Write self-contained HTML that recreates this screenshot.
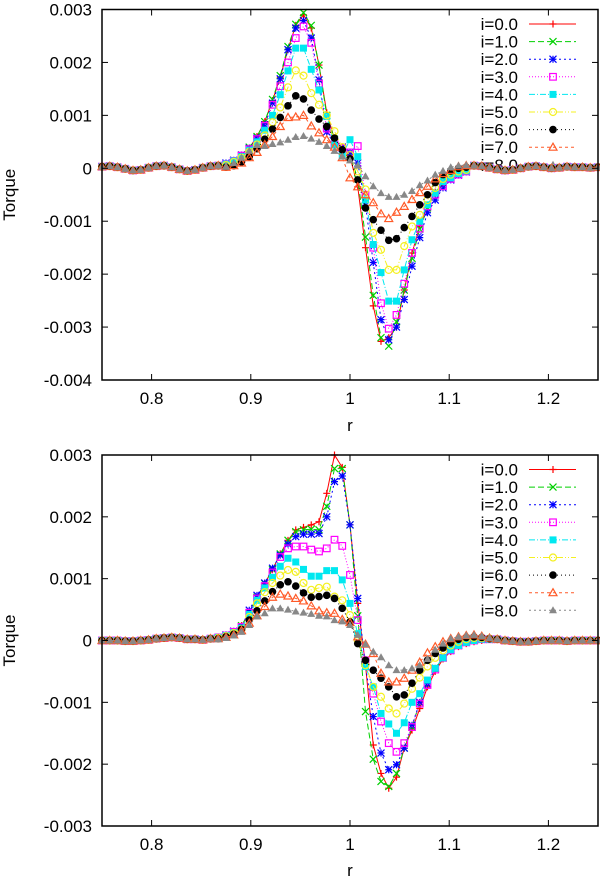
<!DOCTYPE html>
<html><head><meta charset="utf-8"><style>
html,body{margin:0;padding:0;background:#fff;}
svg{display:block;font-family:"Liberation Sans",sans-serif;}
</style></head><body>
<svg id="chart" width="600" height="878" viewBox="0 0 600 878" xmlns="http://www.w3.org/2000/svg"></svg>
<script>
// ---- data (torque values in units of 1e-3) ----
const seriesLabels = ["i=0.0","i=1.0","i=2.0","i=3.0","i=4.0","i=5.0","i=6.0","i=7.0","i=8.0"];
const xTickValues = [0.8, 0.9, 1.0, 1.1, 1.2];
const xTickLabels = ["0.8", "0.9", "1", "1.1", "1.2"];
const topYTickValues = [3, 2, 1, 0, -1, -2, -3, -4];
const topYTickLabels = ["0.003","0.002","0.001","0","-0.001","-0.002","-0.003","-0.004"];
const botYTickValues = [3, 2, 1, 0, -1, -2, -3];
const botYTickLabels = ["0.003","0.002","0.001","0","-0.001","-0.002","-0.003"];
const rStart = 0.75;
const rStep = 1/128;

// top panel
const topTailL = [0.03,0.04,0.02,-0.01,-0.04,-0.03,0.01,0.04,0.05,0.02,-0.02,-0.05,-0.03,0.01,0.04,0.05];
const topTailR = [0.05,0.04,0.01,-0.02,-0.04,-0.03,0.00,0.03,0.04,0.02,0.00,0.01,0.03,0.02,0.02,0.01,0.02];
const topI0 = [...topTailL, 0.08,0.15,0.25,0.38,0.60,0.88,1.28,1.72,2.25,2.70,2.90,2.65,1.95,1.05,0.55,0.40,0.22,-0.35,-1.50,-2.60,-3.27,-3.20,-3.00,-2.30,-1.60,-1.10,-0.70,-0.45,-0.30,-0.18,-0.10,-0.05, ...topTailR];
const topI1 = [...topTailL, 0.08,0.15,0.25,0.40,0.60,0.88,1.30,1.75,2.30,2.72,2.94,2.70,1.95,1.00,0.55,0.40,0.25,-0.20,-1.30,-2.40,-3.20,-3.36,-2.90,-2.30,-1.70,-1.15,-0.75,-0.45,-0.28,-0.15,-0.08,-0.04, ...topTailR];
const topI2 = [...topTailL, 0.10,0.15,0.25,0.38,0.57,0.82,1.23,1.69,2.24,2.65,2.79,2.46,1.67,0.69,0.45,0.40,0.30,0.10,-0.70,-1.78,-2.86,-3.24,-3.00,-2.48,-1.85,-1.31,-0.84,-0.60,-0.37,-0.22,-0.13,-0.07, ...topTailR];
const topI3 = [...topTailL, 0.08,0.14,0.24,0.36,0.55,0.80,1.20,1.55,2.00,2.46,2.68,2.37,1.60,0.75,0.45,0.38,0.30,0.42,-0.50,-1.50,-2.55,-3.03,-2.77,-2.18,-1.60,-1.14,-0.72,-0.50,-0.34,-0.20,-0.12,-0.06, ...topTailR];
const topI4 = [...topTailL, 0.08,0.14,0.22,0.34,0.50,0.72,1.00,1.39,1.84,2.27,2.27,1.87,1.48,0.98,0.44,0.25,0.54,0.22,-0.60,-1.44,-1.97,-2.51,-2.51,-1.92,-1.35,-1.00,-0.69,-0.47,-0.25,-0.18,-0.10,-0.05, ...topTailR];
const topI5 = [...topTailL, 0.06,0.12,0.20,0.31,0.45,0.62,0.87,1.15,1.53,1.85,1.75,1.42,1.20,1.00,0.70,0.40,0.25,-0.06,-0.40,-1.22,-1.54,-1.92,-1.92,-1.47,-1.10,-0.88,-0.60,-0.37,-0.20,-0.12,-0.06,-0.03, ...topTailR];
const topI6 = [...topTailL, 0.02,0.05,0.12,0.22,0.37,0.55,0.74,0.96,1.18,1.37,1.31,1.10,0.93,0.79,0.57,0.35,0.18,-0.22,-0.75,-0.97,-1.17,-1.36,-1.33,-1.12,-0.91,-0.69,-0.50,-0.27,-0.12,-0.05,0.00,0.02, ...topTailR];
const topI7 = [...topTailL, 0.02,0.05,0.10,0.20,0.30,0.45,0.60,0.79,0.96,0.97,1.00,0.80,0.67,0.54,0.40,0.20,-0.18,-0.35,-0.50,-0.65,-0.86,-0.95,-0.83,-0.72,-0.59,-0.46,-0.34,-0.20,-0.10,-0.04,0.03,0.05, ...topTailR];
const topI8 = [...topTailL, 0.03,0.10,0.20,0.33,0.44,0.42,0.46,0.49,0.54,0.59,0.61,0.56,0.50,0.42,0.33,0.22,0.15,0.05,-0.15,-0.34,-0.47,-0.54,-0.54,-0.50,-0.43,-0.32,-0.23,-0.12,-0.05,0.02,0.05,0.06, ...topTailR];

// bottom panel
const botTailL = [0.0,0.0,0.0,-0.01,-0.01,0.0,0.01,0.03,0.04,0.05,0.04,0.02,0.02,0.01,0.03];
const botTailR = [0.02,0.0,-0.01,-0.02,-0.02,-0.01,0.0,0.0,0.0,-0.01,0.0,0.0,0.0,0.0];
const botI0 = [...botTailL, 0.05,0.08,0.14,0.24,0.45,0.70,0.92,1.15,1.40,1.62,1.79,1.83,1.87,1.92,2.38,3.00,2.80,1.87,0.60,-0.40,-1.69,-2.15,-2.39,-2.21,-1.74,-1.45,-1.10,-0.75,-0.50,-0.30,-0.18,-0.10,-0.05,-0.02,0.00,0.02, ...botTailR];
const botI1 = [...botTailL, 0.05,0.08,0.14,0.24,0.45,0.70,0.92,1.15,1.40,1.62,1.76,1.79,1.80,1.79,2.17,2.78,2.78,1.87,0.40,-1.15,-1.92,-2.28,-2.36,-2.15,-1.74,-1.40,-1.00,-0.70,-0.45,-0.28,-0.16,-0.08,-0.03,0.00,0.02,0.02, ...botTailR];
const botI2 = [...botTailL, 0.05,0.09,0.15,0.22,0.49,0.73,0.93,1.17,1.38,1.56,1.68,1.72,1.72,1.73,2.00,2.57,2.66,1.87,0.68,-0.42,-1.23,-1.82,-2.09,-2.01,-1.74,-1.37,-1.00,-0.70,-0.45,-0.28,-0.16,-0.08,-0.03,0.00,0.02,0.02, ...botTailR];
const botI3 = [...botTailL, 0.05,0.08,0.14,0.22,0.45,0.68,0.88,1.10,1.35,1.49,1.52,1.52,1.47,1.44,1.49,1.63,1.53,1.06,0.33,-0.32,-0.86,-1.31,-1.66,-1.80,-1.66,-1.40,-1.02,-0.72,-0.47,-0.28,-0.16,-0.08,-0.03,0.00,0.02,0.02, ...botTailR];
const botI4 = [...botTailL, 0.05,0.08,0.13,0.20,0.42,0.65,0.85,1.02,1.20,1.33,1.27,1.15,1.04,1.04,1.13,1.13,0.98,0.60,0.11,-0.42,-0.75,-1.18,-1.35,-1.50,-1.33,-1.00,-0.86,-0.64,-0.45,-0.28,-0.15,-0.08,-0.03,0.00,0.02,0.02, ...botTailR];
const botI5 = [...botTailL, 0.04,0.07,0.12,0.18,0.38,0.60,0.78,0.93,1.05,1.14,1.11,0.93,0.82,0.85,0.87,0.71,0.65,0.41,0.00,-0.40,-0.75,-0.91,-1.10,-1.18,-1.02,-0.78,-0.60,-0.42,-0.28,-0.16,-0.08,-0.02,0.02,0.04,0.04,0.03, ...botTailR];
const botI6 = [...botTailL, 0.03,0.06,0.10,0.18,0.33,0.48,0.64,0.79,0.90,0.95,0.88,0.77,0.70,0.71,0.73,0.68,0.52,0.30,-0.05,-0.32,-0.48,-0.61,-0.75,-0.91,-0.88,-0.69,-0.48,-0.32,-0.21,-0.12,-0.04,0.02,0.05,0.06,0.05,0.03, ...botTailR];
const botI7 = [...botTailL, 0.03,0.05,0.09,0.16,0.28,0.40,0.55,0.70,0.75,0.72,0.68,0.64,0.56,0.48,0.45,0.44,0.34,0.29,0.06,-0.06,-0.21,-0.53,-0.67,-0.67,-0.61,-0.48,-0.35,-0.20,-0.10,-0.02,0.03,0.06,0.08,0.09,0.07,0.04, ...botTailR];
const botI8 = [...botTailL, 0.02,0.04,0.08,0.14,0.25,0.39,0.44,0.52,0.52,0.50,0.47,0.45,0.43,0.40,0.39,0.33,0.31,0.25,0.09,-0.06,-0.18,-0.27,-0.40,-0.48,-0.48,-0.45,-0.40,-0.30,-0.15,-0.05,0.03,0.06,0.08,0.09,0.07,0.04, ...botTailR];

const topSeries = [topI0, topI1, topI2, topI3, topI4, topI5, topI6, topI7, topI8];
const botSeries = [botI0, botI1, botI2, botI3, botI4, botI5, botI6, botI7, botI8];

// ---- styles ----
const colors = ['#ff0000','#00d000','#0000ff','#ff00ff','#00e8f0','#f4f020','#000000','#ff5a28','#888888'];
const dashes = ['', '6,3', '2,3', '1,2', '6,2,1,2', '6,2,1,2,1,2', '1,3', '3,3', '2,3'];
const markers = ['plus','cross','star','osq','fsq','ocirc','fcirc','otri','ftri'];

const NS = 'http://www.w3.org/2000/svg';
const svg = document.getElementById('chart');
function mk(tag, attrs, parent) {
  const e = document.createElementNS(NS, tag);
  for (const k in attrs) e.setAttribute(k, attrs[k]);
  (parent || svg).appendChild(e);
  return e;
}

function drawMarker(g, type, x, y, color) {
  const s = 3.5;
  let el;
  if (type === 'plus') {
    el = mk('path', {d:`M${x-s} ${y}H${x+s}M${x} ${y-s}V${y+s}`, stroke:color, 'stroke-width':1.2, fill:'none'}, g);
  } else if (type === 'cross') {
    el = mk('path', {d:`M${x-s} ${y-s}L${x+s} ${y+s}M${x-s} ${y+s}L${x+s} ${y-s}`, stroke:color, 'stroke-width':1.2, fill:'none'}, g);
  } else if (type === 'star') {
    el = mk('path', {d:`M${x-s} ${y}H${x+s}M${x} ${y-s}V${y+s}M${x-s} ${y-s}L${x+s} ${y+s}M${x-s} ${y+s}L${x+s} ${y-s}`, stroke:color, 'stroke-width':1.2, fill:'none'}, g);
  } else if (type === 'osq') {
    el = mk('rect', {x:x-3.3, y:y-3.3, width:6.6, height:6.6, stroke:color, 'stroke-width':1.2, fill:'none'}, g);
  } else if (type === 'fsq') {
    el = mk('rect', {x:x-3.5, y:y-3.5, width:7, height:7, fill:color}, g);
  } else if (type === 'ocirc') {
    el = mk('circle', {cx:x, cy:y, r:3.5, stroke:color, 'stroke-width':1.2, fill:'none'}, g);
  } else if (type === 'fcirc') {
    el = mk('circle', {cx:x, cy:y, r:3.8, fill:color}, g);
  } else if (type === 'otri') {
    el = mk('path', {d:`M${x} ${y-4}L${x+4} ${y+3}L${x-4} ${y+3}Z`, stroke:color, 'stroke-width':1.2, fill:'none'}, g);
  } else {
    el = mk('path', {d:`M${x} ${y-4}L${x+4} ${y+3}L${x-4} ${y+3}Z`, fill:color}, g);
  }
  
  
}

function drawPanel(p) {
  const g = mk('g', {});
  
  
  const xs = r => p.x0 + (r - 0.75) / 0.5 * (p.x1 - p.x0);
  const ys = v => p.y0 + (p.ymax - v) / (p.ymax - p.ymin) * (p.y1 - p.y0);

  // legend (drawn under data like the reference)
  const lg = mk('g', {}, g);
  
  
  seriesLabels.forEach((lab, i) => {
    const ly = p.legendY + i * 17.6;
    const eg = mk('g', {}, lg);
    
    
    const t = mk('text', {x:518, y:ly + 6, 'text-anchor':'end', 'font-size':17, fill:'#000'}, eg);
    t.textContent = lab;
    mk('line', {x1:529, y1:ly, x2:576, y2:ly, stroke:colors[i], 'stroke-width':1, 'stroke-dasharray':dashes[i]}, eg);
    drawMarker(eg, markers[i], 553, ly, colors[i]);
  });

  // series
  p.series.forEach((vals, i) => {
    const sg = mk('g', {}, g);
    
    
    const pts = vals.map((v, k) => [xs(rStart + k * rStep), ys(v)]);
    const d = pts.map((q, k) => (k ? 'L' : 'M') + q[0].toFixed(2) + ' ' + q[1].toFixed(2)).join('');
    const path = mk('path', {d:d, fill:'none', stroke:colors[i], 'stroke-width':1, 'stroke-dasharray':dashes[i]}, sg);
    
    
    pts.forEach(q => drawMarker(sg, markers[i], q[0], q[1], colors[i]));
  });

  // frame
  const fr = mk('rect', {x:p.x0, y:p.y0, width:p.x1 - p.x0, height:p.y1 - p.y0, fill:'none', stroke:'#000', 'stroke-width':1.5}, g);
  
  

  // y ticks
  p.yTicks.forEach((v, i) => {
    const y = ys(v);
    mk('line', {x1:p.x0, y1:y, x2:p.x0 + 6, y2:y, stroke:'#000', 'stroke-width':1}, g);
    mk('line', {x1:p.x1, y1:y, x2:p.x1 - 6, y2:y, stroke:'#000', 'stroke-width':1}, g);
    const t = mk('text', {x:92, y:y + 6, 'text-anchor':'end', 'font-size':17, fill:'#000'}, g);
    
    
    t.textContent = p.yLabels[i];
  });
  // x ticks
  xTickValues.forEach((r, i) => {
    const x = xs(r);
    mk('line', {x1:x, y1:p.y1, x2:x, y2:p.y1 - 6, stroke:'#000', 'stroke-width':1}, g);
    mk('line', {x1:x, y1:p.y0, x2:x, y2:p.y0 + 6, stroke:'#000', 'stroke-width':1}, g);
    const t = mk('text', {x:x, y:p.y1 + 24, 'text-anchor':'middle', 'font-size':17, fill:'#000'}, g);
    
    
    t.textContent = xTickLabels[i];
  });
  // axis titles
  const xt = mk('text', {x:350, y:p.xTitleY, 'text-anchor':'middle', 'font-size':17, fill:'#000'}, g);
  
  
  xt.textContent = 'r';
  const cy = (p.y0 + p.y1) / 2;
  const yt = mk('text', {x:15, y:cy, 'text-anchor':'middle', 'font-size':17, fill:'#000', transform:`rotate(-90 15 ${cy})`}, g);
  
  
  yt.textContent = 'Torque';
}

drawPanel({name:'top-panel', x0:102, x1:598, y0:9.5, y1:380, ymin:-4, ymax:3,
  series:topSeries, yTicks:topYTickValues, yLabels:topYTickLabels, legendY:24, xTitleY:431});
drawPanel({name:'bottom-panel', x0:102, x1:598, y0:455, y1:826, ymin:-3, ymax:3,
  series:botSeries, yTicks:botYTickValues, yLabels:botYTickLabels, legendY:469.5, xTitleY:876});
</script>
</body></html>
